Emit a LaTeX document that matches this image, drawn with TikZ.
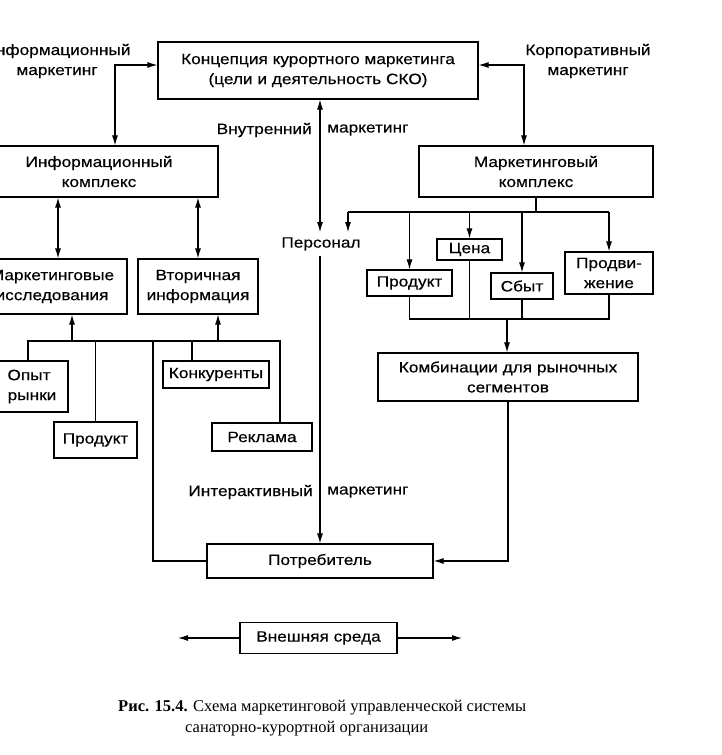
\documentclass[tikz,border=0pt]{standalone}
\usepackage{fontspec}
\setmainfont{Liberation Sans}[FakeStretch=1.15,FakeBold=0.35]
\newfontfamily\capfont{Liberation Serif}
\usetikzlibrary{arrows.meta}
\begin{document}
\begin{tikzpicture}[x=1pt,y=-1pt,
  every node/.style={font=\fontsize{15}{20}\selectfont},
  box/.style={draw,line width=1.2pt,align=center,inner sep=0pt},
  lbl/.style={inner sep=0pt,align=center},
  conn/.style={line width=1.1pt},
  >={Latex[length=10pt,width=6pt]}]
\clip (0,0) rectangle (721,755);
\fill[white] (0,0) rectangle (721,755);

% boxes
\node[box,minimum width=320pt,minimum height=57pt] (top) at (318,70.5) {Концепция курортного маркетинга\\(цели и деятельность СКО)};
\node[box,minimum width=238pt,minimum height=51pt] (info) at (99,171.5) {Информационный\\комплекс};
\node[box,minimum width=234pt,minimum height=51pt] (mkompl) at (536,171.5) {Маркетинговый\\комплекс};
\node[box,minimum width=150pt,minimum height=55pt] (mi) at (52,286.5) {Маркетинговые\\исследования};
\node[box,minimum width=120pt,minimum height=55pt] (vtor) at (198,286.5) {Вторичная\\информация};
\node[box,minimum width=84pt,minimum height=51pt] (opyt) at (26,386.5) {\hspace*{6pt}Опыт\\\hspace*{12pt}рынки};
\node[box,minimum width=83pt,minimum height=36pt] (prodL) at (95.5,440) {Продукт};
\node[box,minimum width=106pt,minimum height=27pt] (konk) at (216,374.5) {Конкуренты};
\node[box,minimum width=100pt,minimum height=28pt] (rekl) at (262,437) {Реклама};
\node[lbl,inner ysep=5pt] (pers) at (321,244) {Персонал};
\node[box,minimum width=85pt,minimum height=26pt] (prodR) at (409.5,283) {Продукт};
\node[box,minimum width=65pt,minimum height=21pt] (cena) at (469.5,249.5) {Цена};
\node[box,minimum width=62pt,minimum height=26pt] (sbyt) at (522,286) {Сбыт};
\node[box,minimum width=88pt,minimum height=42pt] (prodv) at (609,273) {Продви-\\жение};
\node[box,minimum width=260pt,minimum height=48pt] (komb) at (508,377) {Комбинации для рыночных\\сегментов};
\node[box,minimum width=226pt,minimum height=34pt] (potr) at (320,561) {Потребитель};
\node[box,minimum width=157pt,minimum height=31pt] (vnesh) at (318.5,638) {Внешняя среда};

% labels
\node[lbl] (lInf) at (57,61) {Информационный\\маркетинг};
\node[lbl] (lKorp) at (588,61) {Корпоративный\\маркетинг};
\node[lbl,anchor=east] (lVn1) at (312,130) {Внутренний};
\node[lbl,anchor=west] (lVn2) at (327,130) {маркетинг};
\node[lbl,anchor=east] (lIn1) at (313,492) {Интерактивный};
\node[lbl,anchor=west] (lIn2) at (327,492) {маркетинг};

% caption
\node[anchor=west,inner sep=0pt,font=\capfont\fontsize{16.5}{20}\selectfont] (cap1) at (118,708) {\textbf{Рис. 15.4.} Схема маркетинговой управленческой системы};
\node[anchor=west,inner sep=0pt,font=\capfont\fontsize{16.5}{20}\selectfont] (cap2) at (185,729) {санаторно-курортной организации};

% helper coordinates
\coordinate (bus) at (153,341);
\coordinate (rbus) at (536,212);
\coordinate (cbus) at (507,319);
\coordinate (eL) at (178,638);
\coordinate (eR) at (462,638);

% top connections
\draw[conn,<->] ([xshift=16pt]info.north) |- ([yshift=5.5pt]top.west);
\draw[conn,<->] ([xshift=-12pt]mkompl.north) |- ([yshift=5.5pt]top.east);
\draw[conn,<->] (top.south -| 320,0) -- (pers.north -| 320,0);
\draw[conn,->] (pers.south -| 320,0) -- (potr.north);

% info complex
\draw[conn,<->] ([xshift=6pt]mi.north |- info.south) -- ([xshift=6pt]mi.north);
\draw[conn,<->] (vtor.north |- info.south) -- (vtor.north);

% left bus
\draw[conn] (opyt.north -| 28,0) -- (bus -| 28,0) -- ([xshift=18pt]rekl.north |- bus) -- ([xshift=18pt]rekl.north);
\draw[conn] (prodL.north) -- (prodL.north |- bus);
\draw[conn] ([xshift=-24pt]konk.north) -- ([xshift=-24pt]konk.north |- bus);
\draw[conn,->] ([xshift=20pt]mi.south |- bus) -- ([xshift=20pt]mi.south);
\draw[conn,->] ([xshift=20pt]vtor.south |- bus) -- ([xshift=20pt]vtor.south);
\draw[conn] (potr.west) -| (bus);

% marketing complex
\draw[conn] (mkompl.south) -- (rbus);
\draw[conn] ([xshift=27pt]pers.north |- rbus) -- (prodv.north |- rbus);
\draw[conn,->] ([xshift=27pt]pers.north |- rbus) -- ([xshift=27pt]pers.north);
\draw[conn,->] (prodR.north |- rbus) -- (prodR.north);
\draw[conn,->] (cena.north |- rbus) -- (cena.north);
\draw[conn,->] (sbyt.north |- rbus) -- (sbyt.north);
\draw[conn,->] (prodv.north |- rbus) -- (prodv.north);

% collector
\draw[conn] (prodR.south) -- (prodR.south |- cbus) -- (prodv.south |- cbus) -- (prodv.south);
\draw[conn] (cena.south) -- (cena.south |- cbus);
\draw[conn] (sbyt.south) -- (sbyt.south |- cbus);
\draw[conn,->] (cbus) -- (komb.north -| cbus);
\draw[conn,->] (komb.south) |- (potr.east);

% external
\draw[conn,->] (vnesh.west) -- (eL);
\draw[conn,->] (vnesh.east) -- (eR);
\end{tikzpicture}
\end{document}
